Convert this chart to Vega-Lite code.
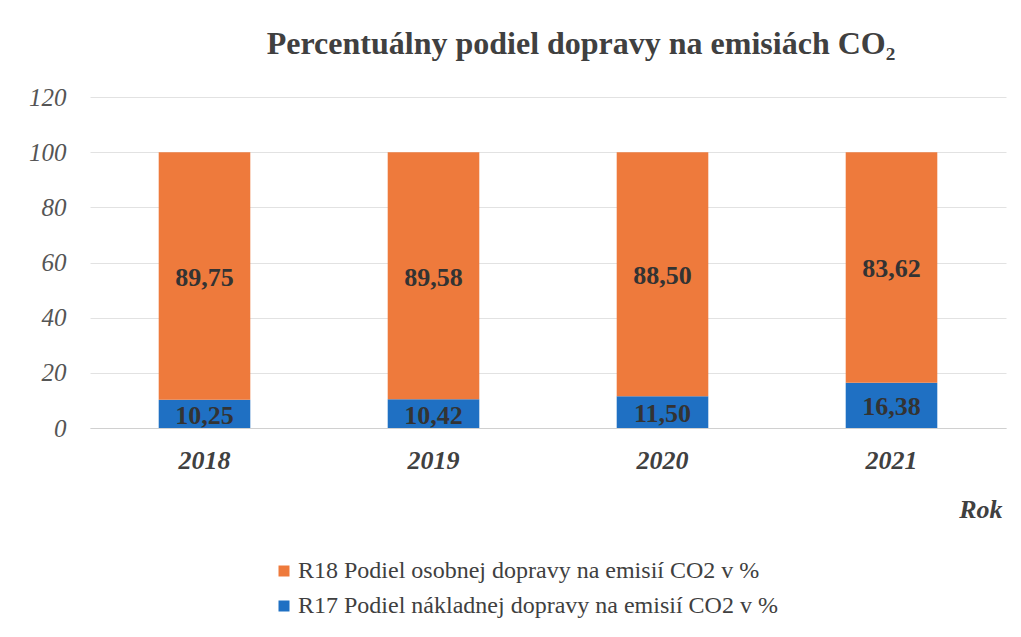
{
  "$schema": "https://vega.github.io/schema/vega-lite/v6.json",
  "autosize": {"type": "none"},
  "width": 916,
  "height": 331,
  "padding": {"left": 90, "top": 97, "right": 15, "bottom": 209},
  "background": "white",
  "config": {
    "view": {"stroke": null},
    "locale": {"number": {"decimal": ",", "thousands": " ", "grouping": [3], "currency": ["", " €"]}},
    "font": "Liberation Serif"
  },
  "title": {
    "text": "Percentuálny podiel dopravy na emisiách CO₂",
    "font": "Liberation Serif",
    "fontSize": 32,
    "fontWeight": "bold",
    "color": "#404040",
    "anchor": "middle",
    "dx": 33,
    "offset": 24
  },
  "data": {
    "values": [
      {"year": "2018", "series": "R17 Podiel nákladnej dopravy na emisií CO2 v %", "value": 10.25},
      {"year": "2018", "series": "R18 Podiel osobnej dopravy na emisií CO2 v %", "value": 89.75},
      {"year": "2019", "series": "R17 Podiel nákladnej dopravy na emisií CO2 v %", "value": 10.42},
      {"year": "2019", "series": "R18 Podiel osobnej dopravy na emisií CO2 v %", "value": 89.58},
      {"year": "2020", "series": "R17 Podiel nákladnej dopravy na emisií CO2 v %", "value": 11.50},
      {"year": "2020", "series": "R18 Podiel osobnej dopravy na emisií CO2 v %", "value": 88.50},
      {"year": "2021", "series": "R17 Podiel nákladnej dopravy na emisií CO2 v %", "value": 16.38},
      {"year": "2021", "series": "R18 Podiel osobnej dopravy na emisií CO2 v %", "value": 83.62}
    ]
  },
  "encoding": {
    "x": {
      "field": "year",
      "type": "nominal",
      "scale": {"paddingInner": 0.6, "paddingOuter": 0.3},
      "axis": {
        "title": "Rok",
        "titleFont": "Liberation Serif",
        "titleFontSize": 26,
        "titleFontWeight": "bold",
        "titleFontStyle": "italic",
        "titleColor": "#404040",
        "titleX": 912,
        "titleY": 89,
        "titleAlign": "right",
        "titleBaseline": "alphabetic",
        "labelAngle": 0,
        "labelFont": "Liberation Serif",
        "labelFontSize": 26,
        "labelFontWeight": "bold",
        "labelFontStyle": "italic",
        "labelColor": "#404040",
        "labelPadding": 19,
        "ticks": false,
        "domainColor": "#d0d0d0",
        "domainWidth": 1
      }
    }
  },
  "layer": [
    {
      "mark": {"type": "bar"},
      "encoding": {
        "y": {
          "field": "value",
          "type": "quantitative",
          "stack": "zero",
          "scale": {"domain": [0, 120]},
          "axis": {
            "title": null,
            "values": [0, 20, 40, 60, 80, 100, 120],
            "labelFont": "Liberation Serif",
            "labelFontSize": 25,
            "labelFontStyle": "italic",
            "labelColor": "#555555",
            "labelPadding": 24,
            "ticks": false,
            "domain": false,
            "gridColor": "#e2e2e2",
            "gridWidth": 1
          }
        },
        "color": {
          "field": "series",
          "type": "nominal",
          "scale": {
            "domain": ["R18 Podiel osobnej dopravy na emisií CO2 v %", "R17 Podiel nákladnej dopravy na emisií CO2 v %"],
            "range": ["#EE7A3C", "#1F70C3"]
          },
          "legend": {
            "title": null,
            "orient": "none",
            "legendX": 182,
            "legendY": 462,
            "direction": "vertical",
            "symbolType": "square",
            "symbolSize": 121,
            "symbolStrokeWidth": 0,
            "labelFont": "Liberation Serif",
            "labelFontSize": 24,
            "labelColor": "#404040",
            "labelLimit": 700,
            "rowPadding": 11,
            "labelOffset": 2
          }
        },
        "order": {"field": "series", "sort": "ascending"}
      }
    },
    {
      "transform": [
        {"stack": "value", "groupby": ["year"], "sort": [{"field": "series", "order": "ascending"}], "as": ["v0", "v1"]},
        {"calculate": "(datum.v0 + datum.v1) / 2", "as": "mid"}
      ],
      "mark": {"type": "text", "font": "Liberation Serif", "fontSize": 26, "fontWeight": "bold", "color": "#333333", "baseline": "middle", "dy": 2},
      "encoding": {
        "y": {"field": "mid", "type": "quantitative"},
        "text": {"field": "value", "type": "quantitative", "format": ".2f"}
      }
    }
  ]
}
